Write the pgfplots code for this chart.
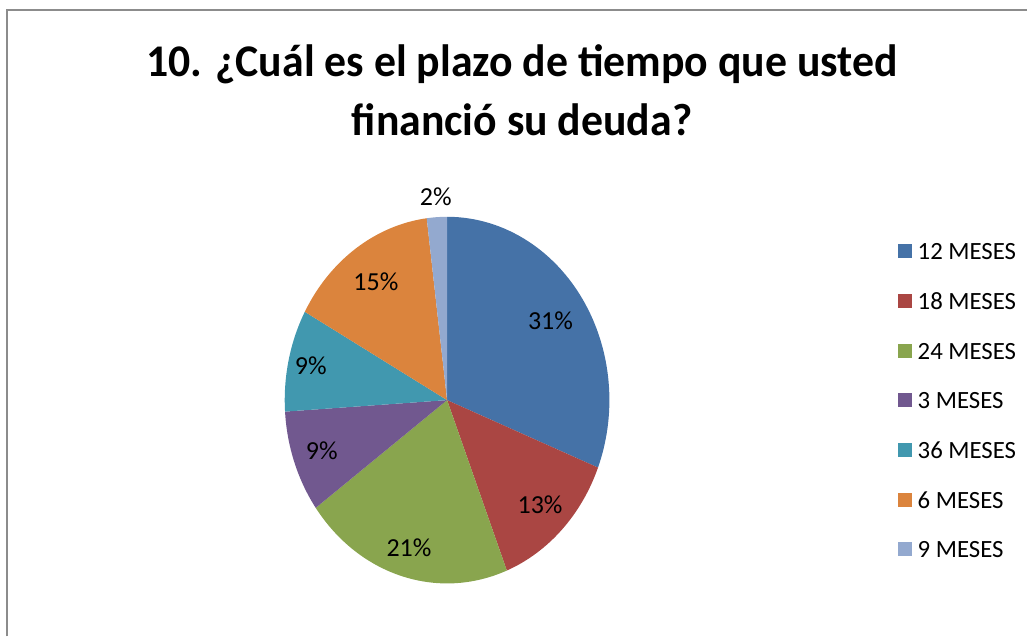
\documentclass[border=0pt]{standalone}
\usepackage{pgfplots}
\usepackage{pgfplotstable}
\pgfplotsset{compat=1.18}
\usepackage{fontspec}
\setmainfont{Carlito}
\usepackage{graphicx}

\definecolor{c0}{HTML}{4572A7}
\definecolor{c1}{HTML}{AA4643}
\definecolor{c2}{HTML}{89A54E}
\definecolor{c3}{HTML}{71588F}
\definecolor{c4}{HTML}{4198AF}
\definecolor{c5}{HTML}{DB843D}
\definecolor{c6}{HTML}{93A9CF}
\definecolor{framegray}{HTML}{8C8C8C}

\pgfplotstableread{
label value lr
{12 MESES} 31 0.77
{18 MESES} 13 0.81
{24 MESES} 21 0.84
{3 MESES} 9 0.82
{36 MESES} 9 0.86
{6 MESES} 15 0.78
{9 MESES} 2 1.11
}\piedata

\newcommand\labfont{\fontsize{19.5}{20}\selectfont}

\begin{document}
\begin{tikzpicture}
\begin{axis}[
  scale only axis, width=771pt, height=477.75pt,
  xmin=0, xmax=1028, ymin=0, ymax=637,
  hide axis, clip=false,
  legend image code/.code={\fill[#1, draw=none] (0pt,-5.25pt) rectangle (10.5pt,5.25pt);},
  legend cell align=left,
  legend style={at={(axis cs:899,394)}, anchor=north west, draw=none, fill=none,
    inner sep=0pt, row sep=24.8pt,
    font=\fontsize{18.6}{19}\selectfont,
    nodes={inner sep=0pt, text height=12.5pt, text depth=0pt},
    /tikz/every odd column/.append style={column sep=4pt}},
]
\path (axis cs:0,0) rectangle (axis cs:1028,637);
\draw[framegray, line width=1.5pt] (axis cs:7,0) -- (axis cs:7,627) -- (axis cs:1028,627);
\pgfplotstablegetrowsof{\piedata}
\pgfmathtruncatemacro\N{\pgfplotsretval-1}
\def\cum{0}
\pgfplotsforeachungrouped \i in {0,...,\N}{%
  \pgfplotstablegetelem{\i}{value}\of\piedata \let\v\pgfplotsretval
  \pgfplotstablegetelem{\i}{label}\of\piedata \let\lab\pgfplotsretval
  \pgfmathsetmacro\a{90-3.6*\cum}%
  \pgfmathsetmacro\b{90-3.6*(\cum+\v)}%
  \pgfmathsetmacro\sx{447.5+162.5*cos(\a)}%
  \pgfmathsetmacro\sy{236.5+183.5*sin(\a)}%
  \edef\temp{%
    \noexpand\fill[c\i] (axis cs:447.5,236.5) -- (axis cs:\sx,\sy)
      arc[start angle=\a, end angle=\b, x radius=121.875pt, y radius=137.625pt] -- cycle;
    \noexpand\addlegendimage{fill=c\i}
    \noexpand\addlegendentry{\lab}
  }\temp
  \pgfmathsetmacro\cum{\cum+\v}%
}
\def\cum{0}
\pgfplotsforeachungrouped \i in {0,...,\N}{%
  \pgfplotstablegetelem{\i}{value}\of\piedata \let\v\pgfplotsretval
  \pgfplotstablegetelem{\i}{lr}\of\piedata \let\lr\pgfplotsretval
  \pgfmathsetmacro\a{90-3.6*\cum}%
  \pgfmathsetmacro\b{90-3.6*(\cum+\v)}%
  \pgfmathsetmacro\m{(\a+\b)/2}%
  \pgfmathsetmacro\lx{447.5+162.5*\lr*cos(\m)}%
  \pgfmathsetmacro\ly{236.5+183.5*\lr*sin(\m)}%
  \pgfmathtruncatemacro\pv{\v}%
  \edef\temp{%
    \noexpand\node[font=\noexpand\labfont, inner sep=0pt] at (axis cs:\lx,\ly) {\pv\noexpand\%};
  }\temp
  \pgfmathsetmacro\cum{\cum+\v}%
}
\node[anchor=base, inner sep=0pt] at (axis cs:522.5,560) {\resizebox{564pt}{\height}{\fontsize{34}{44.25}\selectfont\bfseries
  \begin{tabular}[t]{@{}c@{}}10. ¿Cuál es el plazo de tiempo que usted\\[0pt] financió su deuda?\end{tabular}}};
\end{axis}
\end{tikzpicture}
\end{document}
